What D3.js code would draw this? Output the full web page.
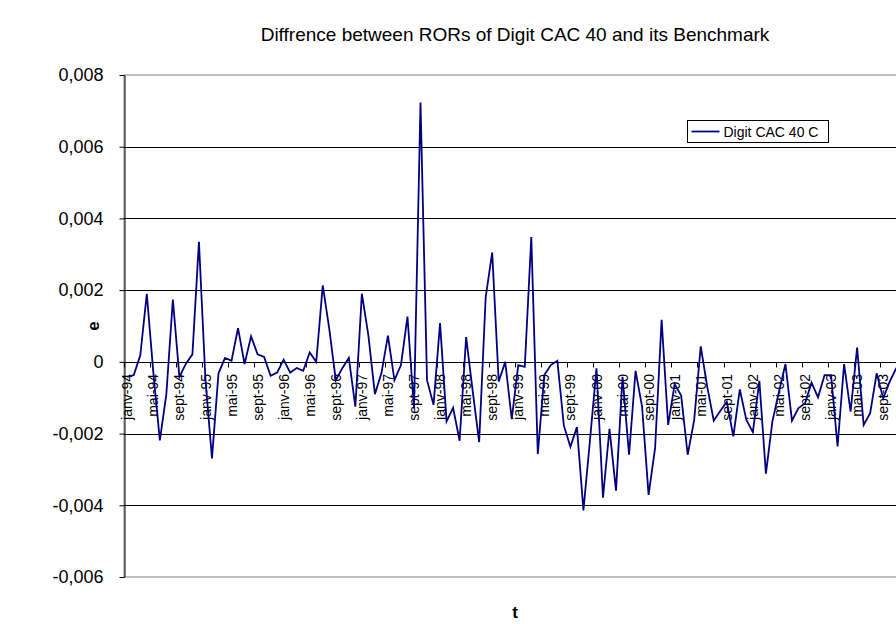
<!DOCTYPE html>
<html>
<head>
<meta charset="utf-8">
<script src="https://cdn.jsdelivr.net/npm/d3@7"></script>
<style>
  html, body { margin: 0; padding: 0; background: #fff; }
  svg { display: block; font-family: Arial, "Liberation Sans", sans-serif; }
</style>
</head>
<body>
<div id="chart"></div>
<script>
// ----------------------------
// Data (monthly, janv-94 .. déc-03)
// ----------------------------
const monthNames = ['janv', 'févr', 'mars', 'avr', 'mai', 'juin', 'juil', 'août', 'sept', 'oct', 'nov', 'déc'];
const years = ['94', '95', '96', '97', '98', '99', '00', '01', '02', '03'];
const seriesName = 'Digit CAC 40 C';
const values = [
  -0.00042, -0.00037, 0.00018, 0.0019, -0.0003, -0.00219, -0.0009, 0.00174, -0.00042, -0.00005, 0.00021, 0.00335,
  -0.0005, -0.00269, -0.00032, 0.00011, 0.00003, 0.00094, -0.00006, 0.00071, 0.00021, 0.00014, -0.00039, -0.0003,
  0.00006, -0.0003, -0.00017, -0.00025, 0.00026, 0.0, 0.00213, 0.00092, -0.00051, -0.00018, 0.00011, -0.00125,
  0.0019, 0.00074, -0.0009, -0.00032, 0.00073, -0.00051, -0.00009, 0.00126, -0.0013, 0.00723, -0.00051, -0.0012,
  0.00108, -0.00166, -0.00128, -0.0022, 0.00069, -0.0008, -0.00224, 0.0018, 0.00305, -0.00055, 0.0, -0.0016,
  -0.00009, -0.00014, 0.00348, -0.00257, -0.00037, -0.00009, 0.00003, -0.00178, -0.00237, -0.00182, -0.00414, -0.0022,
  -0.00018, -0.00379, -0.00187, -0.00359, -0.00042, -0.00259, -0.00025, -0.00125, -0.00371, -0.0024, 0.00117, -0.00176,
  -0.00062, -0.00094, -0.00259, -0.00162, 0.00043, -0.0007, -0.00164, -0.00137, -0.00111, -0.00208, -0.00077, -0.00162,
  -0.00196, -0.00053, -0.00312, -0.00166, -0.00084, -0.00006, -0.00164, -0.00129, -0.00116, -0.00058, -0.00099, -0.00037,
  -0.00037, -0.00236, -0.00006, -0.00139, 0.0004, -0.00176, -0.00143, -0.00032, -0.00102, -0.00055, -0.00018, -0.0001
];
const yTicks = [-0.006, -0.004, -0.002, 0, 0.002, 0.004, 0.006, 0.008];

const categories = [];
years.forEach(y => monthNames.forEach(m => categories.push(m + '-' + y)));

// ----------------------------
// Layout
// ----------------------------
const width = 896;
const height = 624;
const plot = { left: 124, top: 75, right: 906, bottom: 577 };

const svg = d3.select('#chart')
  .append('svg')
  .attr('width', width)
  .attr('height', height);

const x = d3.scaleBand()
  .domain(categories)
  .range([plot.left, plot.right]);

const y = d3.scaleLinear()
  .domain([-0.006, 0.008])
  .range([plot.bottom, plot.top]);

// French style: comma decimal, plain hyphen, bare 0
function fmt(v) {
  if (Math.abs(v) < 1e-12) return '0';
  const s = Math.abs(v).toFixed(3).replace('.', ',');
  return (v < 0 ? '-' : '') + s;
}

// ---- Plot area border (grey)
svg.append('rect')
  .attr('x', plot.left)
  .attr('y', plot.top)
  .attr('width', plot.right - plot.left)
  .attr('height', plot.bottom - plot.top)
  .attr('fill', '#fff')
  .attr('stroke', '#808080')
  .attr('stroke-width', 1);

// ---- Gridlines
svg.append('g')
  .selectAll('line')
  .data(yTicks.filter(t => t > -0.006 && t < 0.008))
  .enter()
  .append('line')
  .attr('x1', plot.left)
  .attr('x2', plot.right)
  .attr('y1', d => Math.round(y(d)) + 0.5)
  .attr('y2', d => Math.round(y(d)) + 0.5)
  .attr('stroke', '#000')
  .attr('stroke-width', 1);

// ---- Y axis
const yAxis = svg.append('g')
  .attr('transform', `translate(${plot.left + 0.5},0)`)
  .call(d3.axisLeft(y).tickValues(yTicks).tickSize(5).tickSizeOuter(0).tickPadding(16).tickFormat(fmt));
yAxis.select('.domain').attr('stroke', '#000');
yAxis.selectAll('.tick line').attr('stroke', '#000');
yAxis.selectAll('.tick text')
  .attr('font-size', '18px')
  .attr('font-family', 'Arial, "Liberation Sans", sans-serif')
  .attr('fill', '#000');

// ---- X axis (crosses at 0)
const y0 = Math.round(y(0)) + 0.5;
const xg = svg.append('g');
xg.append('line')
  .attr('x1', plot.left)
  .attr('x2', plot.right)
  .attr('y1', y0)
  .attr('y2', y0)
  .attr('stroke', '#000');

const labelled = categories.filter((c, i) => i % 4 === 0);

xg.selectAll('.tickmark')
  .data(labelled)
  .enter()
  .append('line')
  .attr('x1', d => Math.round(x(d)) + 0.5)
  .attr('x2', d => Math.round(x(d)) + 0.5)
  .attr('y1', y0)
  .attr('y2', y0 + 5)
  .attr('stroke', '#000');

xg.selectAll('.xlabel')
  .data(labelled)
  .enter()
  .append('text')
  .attr('transform', d => `translate(${x(d) + x.bandwidth() / 2},374) rotate(-90)`)
  .attr('dy', '0.36em')
  .attr('text-anchor', 'end')
  .attr('font-size', '14px')
  .attr('fill', '#000')
  .text(d => d);

// ---- Series line
const line = d3.line()
  .x((d, i) => x(categories[i]) + x.bandwidth() / 2)
  .y(d => y(d));

svg.append('path')
  .datum(values)
  .attr('fill', 'none')
  .attr('stroke', '#000080')
  .attr('stroke-width', 1.8)
  .attr('stroke-linejoin', 'miter')
  .attr('d', line);

// ---- Titles
svg.append('text')
  .attr('x', 515)
  .attr('y', 41)
  .attr('text-anchor', 'middle')
  .attr('font-size', '19px')
  .text('Diffrence between RORs of Digit CAC 40 and its Benchmark');

svg.append('text')
  .attr('transform', 'translate(99,326) rotate(-90)')
  .attr('text-anchor', 'middle')
  .attr('font-size', '17px')
  .attr('font-weight', 'bold')
  .text('e');

svg.append('text')
  .attr('x', 515)
  .attr('y', 618)
  .attr('text-anchor', 'middle')
  .attr('font-size', '17px')
  .attr('font-weight', 'bold')
  .text('t');

// ---- Legend
const legend = svg.append('g').attr('transform', 'translate(687.5,120.5)');
legend.append('rect')
  .attr('width', 141)
  .attr('height', 22)
  .attr('fill', '#fff')
  .attr('stroke', '#000');
legend.append('line')
  .attr('x1', 4)
  .attr('x2', 32)
  .attr('y1', 11)
  .attr('y2', 11)
  .attr('stroke', '#000080')
  .attr('stroke-width', 1.8);
legend.append('text')
  .attr('x', 36)
  .attr('y', 16)
  .attr('font-size', '14px')
  .text(seriesName);
</script>
</body>
</html>
